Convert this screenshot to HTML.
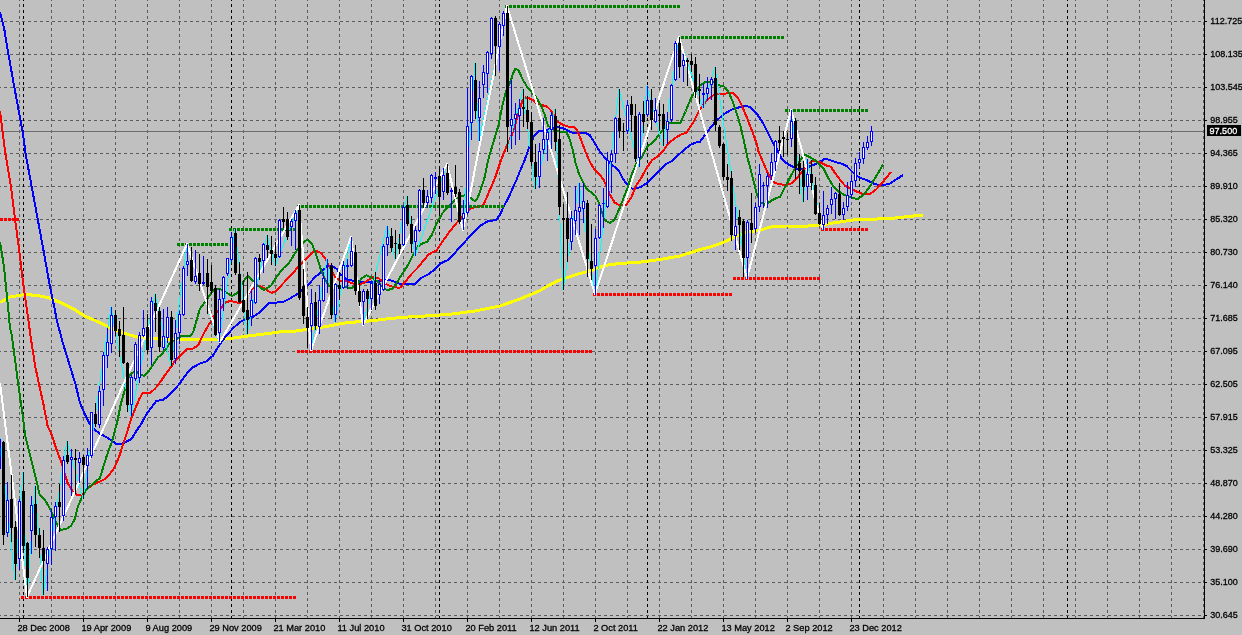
<!DOCTYPE html><html><head><meta charset="utf-8"><style>html,body{margin:0;padding:0;background:#c0c0c0;width:1242px;height:635px;overflow:hidden}svg{display:block}text{font-family:"Liberation Sans",sans-serif;font-size:10px;fill:#000;stroke:#000;stroke-width:0.3px}.tx{will-change:transform}</style></head><body><svg width="1242" height="635" viewBox="0 0 1242 635"><rect width="1242" height="635" fill="#c0c0c0"/><g shape-rendering="crispEdges" fill="none" stroke-width="1" stroke-dasharray="3 3" stroke-dashoffset="2"><path d="M0 21.5H1203M0 54.5H1203M0 87.5H1203M0 120.5H1203M0 153.5H1203M0 186.5H1203M0 219.5H1203M0 252.5H1203M0 285.5H1203M0 318.5H1203M0 351.5H1203M0 384.5H1203M0 417.5H1203M0 450.5H1203M0 483.5H1203M0 516.5H1203M0 549.5H1203M0 582.5H1203M0 615.5H1203" stroke="#5c5c5c"/><path d="M19.5 0V618M51.5 0V618M83.5 0V618M115.5 0V618M147.5 0V618M179.5 0V618M211.5 0V618M243.5 0V618M275.5 0V618M307.5 0V618M339.5 0V618M371.5 0V618M403.5 0V618M435.5 0V618M467.5 0V618M499.5 0V618M531.5 0V618M563.5 0V618M595.5 0V618M627.5 0V618M659.5 0V618M691.5 0V618M723.5 0V618M755.5 0V618M787.5 0V618M819.5 0V618M851.5 0V618M883.5 0V618M915.5 0V618M947.5 0V618M979.5 0V618M1011.5 0V618M1043.5 0V618M1075.5 0V618M1107.5 0V618M1139.5 0V618M1171.5 0V618M1203.5 0V618" stroke="#5c5c5c"/><path d="M23.5 0V618M231.5 0V618M439.5 0V618M647.5 0V618M859.5 0V618M1067.5 0V618" stroke="#000"/></g><path d="M0 131.5H1204" stroke="#6e6e6e" stroke-width="1" shape-rendering="crispEdges"/><path d="M0.0 302.6 L9.8 297.0 L24.4 294.6 L36.6 295.3 L48.8 297.8 L61.0 302.7 L73.2 308.8 L84.5 315.9 L96.6 321.2 L108.0 326.7 L116.0 330.0 L124.0 333.0 L132.0 335.6 L140.0 337.6 L148.3 338.3 L164.4 339.3 L180.5 339.6 L196.6 339.6 L212.7 339.6 L228.8 338.8 L245.0 336.4 L261.0 334.4 L277.0 332.3 L285.0 331.2 L295.7 331.1 L311.5 328.7 L327.2 326.4 L343.0 323.2 L358.7 321.7 L374.5 320.6 L381.5 319.5 L397.2 317.9 L413.0 316.6 L428.7 315.8 L450.0 314.3 L475.0 311.0 L500.0 306.0 L520.0 299.0 L540.0 290.6 L549.4 285.0 L558.9 280.3 L568.3 277.2 L577.8 274.0 L587.2 271.7 L595.1 269.3 L603.0 266.1 L610.9 264.3 L618.7 263.8 L626.6 263.0 L640.0 262.2 L660.0 259.5 L680.0 256.0 L700.0 249.6 L709.4 247.2 L718.9 244.1 L728.3 240.2 L737.8 235.4 L747.2 232.3 L758.3 230.7 L766.1 228.3 L774.0 226.2 L786.6 226.0 L805.7 226.2 L821.5 224.8 L837.2 222.4 L853.0 220.0 L868.7 219.3 L890.0 218.5 L923.0 215.0" fill="none" stroke="#ffff00" stroke-width="3" stroke-linejoin="round" stroke-linecap="butt" shape-rendering="crispEdges" /><path d="M0.0 12.3 L4.1 28.0 L8.2 53.0 L14.3 87.0 L20.5 120.3 L22.7 131.8 L25.6 153.8 L31.7 186.7 L37.8 219.7 L43.9 252.6 L50.0 286.8 L54.9 310.0 L56.7 320.0 L63.0 343.6 L69.3 364.0 L75.6 384.6 L80.0 403.0 L84.7 414.0 L89.4 423.5 L94.5 429.4 L100.0 434.0 L103.6 435.6 L109.4 439.0 L114.2 442.2 L115.7 443.8 L122.0 443.8 L126.8 441.4 L131.5 439.0 L135.1 432.9 L141.4 423.5 L147.5 412.7 L152.0 406.8 L155.9 401.3 L159.8 400.2 L163.0 399.7 L167.7 396.5 L174.0 390.2 L178.7 384.7 L182.1 380.0 L187.0 373.4 L193.4 367.0 L199.8 363.7 L206.3 361.3 L212.7 356.0 L219.4 345.0 L226.0 336.0 L233.2 328.1 L240.0 322.0 L245.0 319.5 L251.4 317.8 L257.8 313.8 L264.3 307.4 L269.0 303.3 L277.0 302.5 L283.6 301.7 L290.0 298.5 L297.3 294.0 L302.0 290.2 L308.3 284.6 L314.6 277.6 L321.0 272.0 L327.2 266.5 L332.0 265.7 L336.7 268.9 L339.8 273.6 L346.1 279.0 L352.4 280.7 L358.7 281.5 L365.0 281.5 L371.3 282.3 L381.5 280.4 L391.0 280.4 L395.7 282.0 L400.4 284.3 L414.6 284.3 L420.9 278.0 L428.7 274.1 L436.6 267.8 L441.3 263.1 L447.3 260.3 L455.2 252.4 L463.1 243.8 L470.9 235.1 L480.4 225.7 L488.3 220.9 L496.1 220.2 L500.1 214.6 L504.0 206.0 L508.7 197.3 L513.5 186.3 L516.4 180.0 L520.0 171.0 L524.7 160.0 L529.0 147.5 L533.8 136.5 L538.5 131.4 L545.0 130.2 L558.3 127.2 L564.6 128.8 L570.9 132.4 L577.2 133.3 L585.1 132.8 L589.8 135.1 L594.6 143.0 L599.3 150.9 L605.6 158.7 L611.9 165.0 L618.2 169.8 L623.6 179.8 L628.3 186.1 L633.1 189.2 L641.0 186.9 L647.2 182.9 L653.5 176.6 L659.8 170.3 L666.1 164.0 L672.4 160.9 L678.7 154.6 L685.0 149.1 L691.3 144.3 L697.6 142.0 L700.0 141.9 L707.9 130.9 L715.7 121.4 L723.6 114.3 L731.5 109.6 L739.4 107.2 L745.7 105.7 L750.4 107.2 L756.7 113.5 L763.0 123.0 L767.7 132.4 L772.4 141.9 L777.2 149.8 L781.9 159.2 L785.0 162.0 L789.8 165.2 L796.3 168.5 L802.6 169.3 L810.5 166.1 L818.3 163.0 L824.6 159.0 L829.4 159.8 L835.7 162.2 L842.0 163.8 L846.7 166.1 L851.4 170.9 L856.1 175.6 L860.9 178.0 L867.2 180.3 L873.5 183.5 L878.2 185.0 L884.5 185.0 L890.0 183.5 L897.0 179.0 L903.0 175.0" fill="none" stroke="#0000ff" stroke-width="2" stroke-linejoin="round" stroke-linecap="butt" shape-rendering="crispEdges" /><path d="M0.0 111.0 L5.4 153.8 L11.0 186.7 L15.1 219.7 L19.5 252.6 L23.2 284.0 L27.6 315.0 L31.5 342.5 L35.4 367.2 L39.4 386.1 L43.3 403.5 L46.5 420.0 L47.2 424.7 L52.0 435.7 L56.7 450.0 L61.4 462.5 L64.6 473.5 L67.7 483.0 L72.4 490.9 L77.2 494.8 L81.9 494.8 L86.6 489.3 L92.9 484.6 L100.0 481.4 L104.7 479.2 L109.4 474.5 L114.2 468.2 L118.9 457.2 L123.6 443.0 L127.6 430.4 L131.5 417.8 L135.4 408.3 L139.4 398.9 L142.5 393.4 L150.4 392.6 L155.1 388.7 L160.6 381.6 L165.8 373.9 L171.3 366.8 L174.0 362.0 L180.5 355.7 L187.0 349.2 L193.4 348.4 L198.2 345.2 L203.0 334.8 L209.5 323.5 L214.3 315.4 L219.2 309.8 L225.6 302.5 L230.4 300.9 L236.9 302.5 L241.7 302.5 L246.5 296.0 L253.0 288.0 L257.8 285.6 L262.6 287.2 L267.5 290.5 L271.5 292.9 L275.5 291.3 L280.2 286.5 L286.3 280.0 L292.6 273.6 L298.9 265.7 L305.2 259.4 L311.5 253.1 L316.2 250.8 L321.0 253.1 L325.7 259.4 L330.4 268.9 L335.1 276.8 L339.8 280.7 L344.6 280.7 L349.3 282.3 L354.0 283.9 L358.7 284.6 L365.0 282.3 L372.0 277.2 L378.3 278.0 L383.0 282.0 L387.8 285.1 L392.5 286.7 L397.2 287.5 L400.4 287.5 L405.1 282.0 L411.4 274.1 L417.7 267.8 L424.0 260.0 L428.7 254.4 L432.0 252.5 L436.3 250.9 L442.6 241.4 L450.5 230.4 L458.3 221.0 L464.6 214.6 L470.9 208.3 L477.2 206.8 L483.5 205.2 L486.7 197.3 L491.4 186.3 L494.3 180.0 L500.4 161.9 L506.7 146.1 L513.0 132.0 L517.7 116.2 L522.4 100.5 L525.6 97.3 L531.9 99.3 L536.3 103.6 L542.6 105.2 L547.3 106.8 L550.5 109.9 L553.6 114.6 L556.8 121.0 L561.5 124.1 L567.8 126.5 L574.1 127.2 L577.2 130.4 L580.4 138.3 L585.1 150.9 L589.8 161.9 L594.6 169.8 L600.9 176.1 L604.0 180.5 L606.6 186.7 L609.8 194.6 L614.5 202.4 L620.0 205.6 L626.0 205.0 L631.0 198.0 L636.0 186.0 L641.0 178.2 L647.2 167.2 L652.0 160.1 L658.3 156.1 L663.0 151.4 L667.7 144.3 L674.0 138.8 L680.3 134.9 L686.6 132.5 L692.9 123.1 L697.6 113.6 L700.3 109.3 L706.5 100.5 L712.7 95.5 L718.9 93.9 L733.1 93.1 L737.8 97.8 L742.5 107.2 L747.2 118.3 L752.0 130.9 L756.7 143.5 L758.3 151.0 L763.0 162.0 L767.7 173.0 L772.4 181.7 L778.7 184.1 L785.0 184.9 L790.5 184.0 L796.3 178.7 L802.6 170.9 L807.3 164.6 L813.6 160.6 L819.9 162.2 L826.2 165.4 L830.9 166.9 L835.7 174.0 L840.4 180.3 L845.1 185.8 L851.4 189.0 L857.7 192.1 L864.0 194.5 L870.3 193.7 L876.6 189.0 L882.9 181.9 L891.0 172.0" fill="none" stroke="#ff0000" stroke-width="2" stroke-linejoin="round" stroke-linecap="butt" shape-rendering="crispEdges" /><path d="M0.0 242.0 L2.0 254.0 L4.2 269.0 L7.1 297.4 L9.9 327.0 L11.8 335.7 L15.0 359.4 L18.1 383.0 L21.3 405.0 L23.3 420.0 L25.2 435.7 L29.1 451.5 L33.0 467.2 L37.0 483.0 L39.4 494.0 L44.0 498.7 L48.0 505.0 L52.0 512.8 L55.1 520.2 L59.0 528.3 L60.6 530.0 L66.0 529.0 L71.0 526.0 L74.8 519.0 L77.1 509.5 L78.7 504.7 L81.9 497.0 L86.6 489.3 L92.9 483.8 L100.0 477.8 L106.3 457.2 L112.6 439.8 L117.5 420.5 L120.8 404.0 L123.6 394.2 L126.0 385.5 L128.0 379.0 L130.4 374.5 L135.2 371.0 L139.8 374.0 L143.8 376.0 L148.8 371.0 L154.8 362.0 L158.0 357.3 L160.3 355.7 L165.8 349.4 L170.6 342.0 L175.7 339.6 L180.5 336.4 L190.2 336.4 L193.4 331.5 L196.6 320.3 L199.8 309.0 L204.7 302.5 L209.5 295.3 L213.0 290.6 L219.3 288.5 L225.6 292.0 L231.9 296.0 L237.5 293.0 L242.5 283.0 L247.8 275.5 L255.6 283.3 L260.0 287.5 L264.2 290.0 L271.2 285.5 L277.2 275.8 L283.5 268.0 L288.3 264.0 L293.0 256.5 L297.7 249.0 L302.4 243.5 L307.2 239.6 L311.9 243.5 L316.6 256.1 L320.6 268.7 L324.5 278.2 L328.6 285.5 L333.5 287.0 L339.8 286.2 L346.1 287.0 L350.0 288.5 L354.7 286.7 L357.2 283.9 L361.9 278.3 L366.4 275.3 L371.3 277.4 L378.3 282.0 L383.0 289.0 L387.8 289.8 L392.5 289.0 L397.2 282.0 L402.0 274.1 L408.3 264.6 L413.0 255.2 L417.7 246.5 L422.4 243.4 L427.2 241.8 L431.9 234.7 L436.3 224.1 L442.6 213.0 L448.9 206.0 L455.2 199.7 L461.5 195.7 L466.0 195.3 L469.8 197.0 L474.6 201.0 L476.5 200.0 L479.3 194.0 L484.0 179.8 L488.7 157.8 L493.5 142.0 L498.2 126.3 L500.0 117.3 L502.8 104.0 L505.5 93.0 L508.3 86.5 L511.0 80.4 L513.0 73.5 L515.4 68.8 L518.5 70.0 L522.4 79.0 L527.2 87.0 L531.9 92.5 L536.6 98.0 L541.3 106.0 L544.8 115.0 L548.0 125.7 L555.2 131.2 L566.2 132.0 L569.4 138.3 L572.5 149.3 L575.7 163.5 L578.8 173.5 L583.0 182.0 L586.1 188.3 L590.9 192.2 L595.6 196.1 L598.7 202.4 L601.9 211.9 L605.0 220.6 L609.8 222.9 L614.5 219.8 L620.0 207.2 L627.6 187.6 L631.5 175.0 L636.2 164.0 L642.5 156.1 L647.2 146.7 L653.5 142.0 L658.3 135.7 L663.0 129.4 L669.3 123.1 L680.3 123.1 L685.5 111.5 L688.5 104.0 L692.0 96.5 L696.0 90.5 L700.0 85.5 L704.6 82.3 L712.4 81.2 L720.0 85.5 L723.6 86.0 L728.3 91.5 L733.1 102.5 L737.8 116.7 L740.9 127.7 L744.1 141.9 L747.2 156.5 L752.0 174.6 L756.7 193.5 L760.6 202.2 L764.6 204.6 L769.3 202.2 L774.0 199.0 L780.3 196.7 L785.0 187.2 L789.8 177.8 L794.6 169.2 L799.4 161.4 L804.2 154.3 L810.5 157.5 L816.8 161.4 L823.1 167.7 L827.8 177.2 L832.5 185.0 L837.2 190.6 L843.5 194.5 L851.4 197.6 L857.7 199.2 L864.0 194.5 L870.3 185.8 L876.6 175.6 L882.9 164.6" fill="none" stroke="#008000" stroke-width="2" stroke-linejoin="round" stroke-linecap="butt" shape-rendering="crispEdges" /><g shape-rendering="crispEdges"><path d="M177 243h3v3h-3zM181 243h3v3h-3zM185 243h3v3h-3zM189 243h3v3h-3zM193 243h3v3h-3zM197 243h3v3h-3zM201 243h3v3h-3zM205 243h3v3h-3zM209 243h3v3h-3zM213 243h3v3h-3zM217 243h3v3h-3zM221 243h3v3h-3zM225 243h3v3h-3z" fill="#008000"/><path d="M229 228h3v3h-3zM233 228h3v3h-3zM237 228h3v3h-3zM241 228h3v3h-3zM245 228h3v3h-3zM249 228h3v3h-3zM253 228h3v3h-3zM257 228h3v3h-3zM261 228h3v3h-3zM265 228h3v3h-3zM269 228h3v3h-3zM273 228h3v3h-3zM277 228h3v3h-3zM281 228h3v3h-3zM285 228h3v3h-3zM289 228h3v3h-3zM293 228h3v3h-3z" fill="#008000"/><path d="M297 205h3v3h-3zM301 205h3v3h-3zM305 205h3v3h-3zM309 205h3v3h-3zM313 205h3v3h-3zM317 205h3v3h-3zM321 205h3v3h-3zM325 205h3v3h-3zM329 205h3v3h-3zM333 205h3v3h-3zM337 205h3v3h-3zM341 205h3v3h-3zM345 205h3v3h-3zM349 205h3v3h-3zM353 205h3v3h-3zM357 205h3v3h-3zM361 205h3v3h-3zM365 205h3v3h-3zM369 205h3v3h-3zM373 205h3v3h-3zM377 205h3v3h-3zM381 205h3v3h-3zM385 205h3v3h-3zM389 205h3v3h-3zM393 205h3v3h-3zM397 205h3v3h-3zM401 205h3v3h-3zM405 205h3v3h-3zM409 205h3v3h-3zM413 205h3v3h-3zM417 205h3v3h-3zM421 205h3v3h-3zM425 205h3v3h-3zM429 205h3v3h-3zM433 205h3v3h-3zM437 205h3v3h-3zM441 205h3v3h-3zM445 205h3v3h-3zM449 205h3v3h-3zM453 205h3v3h-3zM457 205h3v3h-3zM461 205h3v3h-3zM465 205h3v3h-3zM469 205h3v3h-3zM473 205h3v3h-3zM477 205h3v3h-3zM481 205h3v3h-3zM485 205h3v3h-3zM489 205h3v3h-3zM493 205h3v3h-3zM497 205h3v3h-3zM501 205h3v3h-3z" fill="#008000"/><path d="M505 5h3v3h-3zM509 5h3v3h-3zM513 5h3v3h-3zM517 5h3v3h-3zM521 5h3v3h-3zM525 5h3v3h-3zM529 5h3v3h-3zM533 5h3v3h-3zM537 5h3v3h-3zM541 5h3v3h-3zM545 5h3v3h-3zM549 5h3v3h-3zM553 5h3v3h-3zM557 5h3v3h-3zM561 5h3v3h-3zM565 5h3v3h-3zM569 5h3v3h-3zM573 5h3v3h-3zM577 5h3v3h-3zM581 5h3v3h-3zM585 5h3v3h-3zM589 5h3v3h-3zM593 5h3v3h-3zM597 5h3v3h-3zM601 5h3v3h-3zM605 5h3v3h-3zM609 5h3v3h-3zM613 5h3v3h-3zM617 5h3v3h-3zM621 5h3v3h-3zM625 5h3v3h-3zM629 5h3v3h-3zM633 5h3v3h-3zM637 5h3v3h-3zM641 5h3v3h-3zM645 5h3v3h-3zM649 5h3v3h-3zM653 5h3v3h-3zM657 5h3v3h-3zM661 5h3v3h-3zM665 5h3v3h-3zM669 5h3v3h-3zM673 5h3v3h-3zM677 5h3v3h-3z" fill="#008000"/><path d="M681 36h3v3h-3zM685 36h3v3h-3zM689 36h3v3h-3zM693 36h3v3h-3zM697 36h3v3h-3zM701 36h3v3h-3zM705 36h3v3h-3zM709 36h3v3h-3zM713 36h3v3h-3zM717 36h3v3h-3zM721 36h3v3h-3zM725 36h3v3h-3zM729 36h3v3h-3zM733 36h3v3h-3zM737 36h3v3h-3zM741 36h3v3h-3zM745 36h3v3h-3zM749 36h3v3h-3zM753 36h3v3h-3zM757 36h3v3h-3zM761 36h3v3h-3zM765 36h3v3h-3zM769 36h3v3h-3zM773 36h3v3h-3zM777 36h3v3h-3zM781 36h3v3h-3z" fill="#008000"/><path d="M785 109h3v3h-3zM789 109h3v3h-3zM793 109h3v3h-3zM797 109h3v3h-3zM801 109h3v3h-3zM805 109h3v3h-3zM809 109h3v3h-3zM813 109h3v3h-3zM817 109h3v3h-3zM821 109h3v3h-3zM825 109h3v3h-3zM829 109h3v3h-3zM833 109h3v3h-3zM837 109h3v3h-3zM841 109h3v3h-3zM845 109h3v3h-3zM849 109h3v3h-3zM853 109h3v3h-3zM857 109h3v3h-3zM861 109h3v3h-3zM865 109h3v3h-3z" fill="#008000"/><path d="M21 596h3v3h-3zM25 596h3v3h-3zM29 596h3v3h-3zM33 596h3v3h-3zM37 596h3v3h-3zM41 596h3v3h-3zM45 596h3v3h-3zM49 596h3v3h-3zM53 596h3v3h-3zM57 596h3v3h-3zM61 596h3v3h-3zM65 596h3v3h-3zM69 596h3v3h-3zM73 596h3v3h-3zM77 596h3v3h-3zM81 596h3v3h-3zM85 596h3v3h-3zM89 596h3v3h-3zM93 596h3v3h-3zM97 596h3v3h-3zM101 596h3v3h-3zM105 596h3v3h-3zM109 596h3v3h-3zM113 596h3v3h-3zM117 596h3v3h-3zM121 596h3v3h-3zM125 596h3v3h-3zM129 596h3v3h-3zM133 596h3v3h-3zM137 596h3v3h-3zM141 596h3v3h-3zM145 596h3v3h-3zM149 596h3v3h-3zM153 596h3v3h-3zM157 596h3v3h-3zM161 596h3v3h-3zM165 596h3v3h-3zM169 596h3v3h-3zM173 596h3v3h-3zM177 596h3v3h-3zM181 596h3v3h-3zM185 596h3v3h-3zM189 596h3v3h-3zM193 596h3v3h-3zM197 596h3v3h-3zM201 596h3v3h-3zM205 596h3v3h-3zM209 596h3v3h-3zM213 596h3v3h-3zM217 596h3v3h-3zM221 596h3v3h-3zM225 596h3v3h-3zM229 596h3v3h-3zM233 596h3v3h-3zM237 596h3v3h-3zM241 596h3v3h-3zM245 596h3v3h-3zM249 596h3v3h-3zM253 596h3v3h-3zM257 596h3v3h-3zM261 596h3v3h-3zM265 596h3v3h-3zM269 596h3v3h-3zM273 596h3v3h-3zM277 596h3v3h-3zM281 596h3v3h-3zM285 596h3v3h-3zM289 596h3v3h-3zM293 596h3v3h-3z" fill="#ff0000"/><path d="M297 350h3v3h-3zM301 350h3v3h-3zM305 350h3v3h-3zM309 350h3v3h-3zM313 350h3v3h-3zM317 350h3v3h-3zM321 350h3v3h-3zM325 350h3v3h-3zM329 350h3v3h-3zM333 350h3v3h-3zM337 350h3v3h-3zM341 350h3v3h-3zM345 350h3v3h-3zM349 350h3v3h-3zM353 350h3v3h-3zM357 350h3v3h-3zM361 350h3v3h-3zM365 350h3v3h-3zM369 350h3v3h-3zM373 350h3v3h-3zM377 350h3v3h-3zM381 350h3v3h-3zM385 350h3v3h-3zM389 350h3v3h-3zM393 350h3v3h-3zM397 350h3v3h-3zM401 350h3v3h-3zM405 350h3v3h-3zM409 350h3v3h-3zM413 350h3v3h-3zM417 350h3v3h-3zM421 350h3v3h-3zM425 350h3v3h-3zM429 350h3v3h-3zM433 350h3v3h-3zM437 350h3v3h-3zM441 350h3v3h-3zM445 350h3v3h-3zM449 350h3v3h-3zM453 350h3v3h-3zM457 350h3v3h-3zM461 350h3v3h-3zM465 350h3v3h-3zM469 350h3v3h-3zM473 350h3v3h-3zM477 350h3v3h-3zM481 350h3v3h-3zM485 350h3v3h-3zM489 350h3v3h-3zM493 350h3v3h-3zM497 350h3v3h-3zM501 350h3v3h-3zM505 350h3v3h-3zM509 350h3v3h-3zM513 350h3v3h-3zM517 350h3v3h-3zM521 350h3v3h-3zM525 350h3v3h-3zM529 350h3v3h-3zM533 350h3v3h-3zM537 350h3v3h-3zM541 350h3v3h-3zM545 350h3v3h-3zM549 350h3v3h-3zM553 350h3v3h-3zM557 350h3v3h-3zM561 350h3v3h-3zM565 350h3v3h-3zM569 350h3v3h-3zM573 350h3v3h-3zM577 350h3v3h-3zM581 350h3v3h-3zM585 350h3v3h-3zM589 350h3v3h-3z" fill="#ff0000"/><path d="M593 293h3v3h-3zM597 293h3v3h-3zM601 293h3v3h-3zM605 293h3v3h-3zM609 293h3v3h-3zM613 293h3v3h-3zM617 293h3v3h-3zM621 293h3v3h-3zM625 293h3v3h-3zM629 293h3v3h-3zM633 293h3v3h-3zM637 293h3v3h-3zM641 293h3v3h-3zM645 293h3v3h-3zM649 293h3v3h-3zM653 293h3v3h-3zM657 293h3v3h-3zM661 293h3v3h-3zM665 293h3v3h-3zM669 293h3v3h-3zM673 293h3v3h-3zM677 293h3v3h-3zM681 293h3v3h-3zM685 293h3v3h-3zM689 293h3v3h-3zM693 293h3v3h-3zM697 293h3v3h-3zM701 293h3v3h-3zM705 293h3v3h-3zM709 293h3v3h-3zM713 293h3v3h-3zM717 293h3v3h-3zM721 293h3v3h-3zM725 293h3v3h-3zM729 293h3v3h-3z" fill="#ff0000"/><path d="M733 277h3v3h-3zM737 277h3v3h-3zM741 277h3v3h-3zM745 277h3v3h-3zM749 277h3v3h-3zM753 277h3v3h-3zM757 277h3v3h-3zM761 277h3v3h-3zM765 277h3v3h-3zM769 277h3v3h-3zM773 277h3v3h-3zM777 277h3v3h-3zM781 277h3v3h-3zM785 277h3v3h-3zM789 277h3v3h-3zM793 277h3v3h-3zM797 277h3v3h-3zM801 277h3v3h-3zM805 277h3v3h-3zM809 277h3v3h-3zM813 277h3v3h-3zM817 277h3v3h-3z" fill="#ff0000"/><path d="M821 228h3v3h-3zM825 228h3v3h-3zM829 228h3v3h-3zM833 228h3v3h-3zM837 228h3v3h-3zM841 228h3v3h-3zM845 228h3v3h-3zM849 228h3v3h-3zM853 228h3v3h-3zM857 228h3v3h-3zM861 228h3v3h-3zM865 228h3v3h-3z" fill="#ff0000"/><path d="M0 218h3v3h-3zM4 218h3v3h-3zM8 218h3v3h-3zM12 218h3v3h-3zM16 218h3v3h-3z" fill="#ff0000"/></g><path d="M-4.0 400.0 L15.0 580.0 L23.0 472.0 L27.0 597.0 L35.0 486.0 L43.0 595.0 L67.0 441.0 L83.0 499.0 L111.0 307.0 L131.0 416.0 L155.0 294.0 L171.0 366.0 L187.0 244.0 L219.0 342.0 L235.0 229.0 L247.0 334.0 L267.0 235.0 L275.0 266.0 L299.0 205.0 L311.0 350.0 L327.0 259.0 L335.0 322.0 L351.0 237.0 L363.0 325.0 L387.0 226.0 L395.0 259.0 L407.0 196.0 L415.0 256.0 L447.0 164.0 L463.0 230.0 L475.0 63.0 L479.0 141.0 L507.0 6.0 L507.0 152.0 L523.0 89.0 L535.0 189.0 L555.0 109.0 L563.0 290.0 L579.0 183.0 L595.0 295.0 L619.0 89.0 L639.0 167.0 L647.0 86.0 L663.0 146.0 L679.0 37.0 L703.0 108.0 L715.0 67.0 L747.0 279.0 L791.0 110.0 L803.0 202.0 L807.0 159.0 L823.0 230.0" fill="none" stroke="#00ffff" stroke-width="1" stroke-linejoin="round" stroke-linecap="butt" shape-rendering="crispEdges" /><path d="M0.0 383.0 L27.0 597.0 L187.0 244.0 L220.0 342.0 L299.0 205.0 L311.0 350.0 L351.0 237.0 L363.0 325.0 L447.0 164.0 L463.0 230.0 L507.0 6.0 L595.0 294.0 L679.0 37.0 L747.0 278.0 L791.0 110.0 L823.0 229.0" fill="none" stroke="#ffffff" stroke-width="2" stroke-linejoin="round" stroke-linecap="butt" shape-rendering="crispEdges" /><g shape-rendering="crispEdges"><path d="M3.5 441V545M11.5 475V542M15.5 521V580M23.5 472V553M27.5 542V597M35.5 486V547M39.5 528V558M43.5 530V595M59.5 484V532M67.5 441V464M75.5 449V494M83.5 455V499M95.5 403V427M115.5 310V336M119.5 321V357M123.5 307V364M127.5 362V412M147.5 314V354M155.5 294V332M159.5 307V352M171.5 311V366M191.5 247V282M199.5 254V291M207.5 259V314M211.5 265V294M215.5 285V336M235.5 229V275M239.5 262V303M243.5 280V313M247.5 272V334M259.5 254V280M267.5 235V258M271.5 236V265M275.5 242V266M283.5 207V228M287.5 212V240M299.5 205V300M303.5 269V324M307.5 307V348M315.5 292V330M331.5 263V319M339.5 272V300M355.5 245V295M359.5 283V306M367.5 289V319M375.5 272V310M391.5 228V252M395.5 230V259M399.5 234V254M407.5 196V226M411.5 216V253M423.5 178V208M439.5 166V214M447.5 164V195M455.5 165V197M459.5 189V224M475.5 63V119M495.5 16V76M507.5 6V152M523.5 89V127M527.5 96V129M531.5 112V166M535.5 144V189M555.5 109V151M559.5 125V215M563.5 204V290M567.5 192V262M587.5 200V277M591.5 224V280M619.5 89V138M623.5 123V151M631.5 96V132M635.5 104V162M643.5 101V133M651.5 89V130M659.5 103V131M663.5 104V146M679.5 37V78M687.5 58V86M691.5 54V72M695.5 57V98M699.5 74V104M715.5 67V131M719.5 125V148M723.5 143V180M727.5 164V191M731.5 171V241M739.5 210V250M743.5 219V277M751.5 193V243M779.5 126V151M783.5 131V157M787.5 133V155M795.5 118V179M799.5 154V194M803.5 161V202M811.5 160V190M815.5 177V215M819.5 203V225M839.5 183V216" stroke="#000" stroke-width="1" fill="none"/><path d="M2 442h3v93h-3zM10 499h3v29h-3zM14 527h3v37h-3zM22 491h3v55h-3zM26 543h3v35h-3zM34 504h3v31h-3zM38 535h3v13h-3zM42 548h3v13h-3zM58 502h3v5h-3zM66 455h3v7h-3zM74 458h3v2h-3zM82 457h3v8h-3zM94 414h3v10h-3zM114 315h3v16h-3zM118 329h3v7h-3zM122 335h3v28h-3zM126 363h3v42h-3zM146 327h3v23h-3zM154 303h3v8h-3zM158 311h3v36h-3zM170 317h3v43h-3zM190 260h3v21h-3zM198 273h3v11h-3zM206 273h3v14h-3zM210 282h3v9h-3zM214 288h3v47h-3zM234 233h3v40h-3zM238 274h3v28h-3zM242 300h3v12h-3zM246 310h3v10h-3zM258 258h3v4h-3zM266 245h3v5h-3zM270 250h3v4h-3zM274 254h3v4h-3zM282 219h3v3h-3zM286 219h3v18h-3zM298 210h3v88h-3zM302 286h3v30h-3zM306 317h3v11h-3zM314 302h3v24h-3zM330 266h3v49h-3zM338 285h3v4h-3zM354 252h3v39h-3zM358 291h3v11h-3zM366 291h3v8h-3zM374 283h3v23h-3zM390 236h3v12h-3zM394 243h3v1h-3zM398 244h3v5h-3zM406 205h3v19h-3zM410 224h3v20h-3zM422 190h3v13h-3zM438 176h3v21h-3zM446 173h3v20h-3zM454 187h3v7h-3zM458 192h3v30h-3zM474 80h3v31h-3zM494 18h3v28h-3zM506 13h3v114h-3zM522 107h3v2h-3zM526 110h3v12h-3zM530 122h3v40h-3zM534 162h3v15h-3zM554 116h3v26h-3zM558 139h3v68h-3zM562 218h3v2h-3zM566 218h3v21h-3zM586 203h3v56h-3zM590 261h3v8h-3zM618 118h3v13h-3zM622 131h3v1h-3zM630 104h3v11h-3zM634 116h3v43h-3zM642 114h3v8h-3zM650 100h3v20h-3zM658 114h3v2h-3zM662 114h3v15h-3zM678 43h3v24h-3zM686 60h3v2h-3zM690 61h3v4h-3zM694 64h3v28h-3zM698 89h3v2h-3zM714 78h3v47h-3zM718 127h3v19h-3zM722 144h3v33h-3zM726 177h3v3h-3zM730 178h3v57h-3zM738 217h3v8h-3zM742 221h3v37h-3zM750 223h3v7h-3zM778 140h3v3h-3zM782 137h3v2h-3zM786 139h3v1h-3zM794 121h3v47h-3zM798 163h3v8h-3zM802 170h3v17h-3zM810 174h3v9h-3zM814 185h3v29h-3zM818 213h3v11h-3zM838 194h3v21h-3z" fill="#000"/><path d="M-0.5 430V439M-0.5 469V475M7.5 482V500M7.5 533V537M19.5 499V501M19.5 559V570M31.5 496V505M31.5 531V554M47.5 547V549M47.5 564V591M51.5 509V517M51.5 549V565M55.5 502V506M55.5 517V551M63.5 456V460M63.5 516V521M71.5 449V457M71.5 460V496M79.5 452V458M79.5 463V483M87.5 448V455M87.5 466V489M91.5 412V412M91.5 456V458M99.5 386V391M99.5 425V428M103.5 352V355M103.5 390V406M107.5 328V342M107.5 356V368M111.5 307V315M111.5 344V353M131.5 375V377M131.5 405V416M135.5 342V344M135.5 379V381M139.5 332V335M139.5 378V383M143.5 310V328M143.5 336V337M151.5 297V301M151.5 348V365M163.5 309V336M163.5 348V350M167.5 307V317M167.5 338V343M175.5 320V333M175.5 359V364M179.5 311V314M179.5 333V344M183.5 266V268M183.5 315V316M187.5 244V261M187.5 265V276M195.5 250V276M195.5 282V284M203.5 256V282M203.5 284V285M219.5 289V299M219.5 333V342M223.5 276V277M223.5 299V311M227.5 258V258M227.5 274V276M231.5 232V237M231.5 260V262M251.5 290V300M251.5 317V326M255.5 257V258M255.5 303V304M263.5 243V244M263.5 261V273M279.5 219V220M279.5 257V258M291.5 219V221M291.5 227V246M295.5 210V213M295.5 221V250M311.5 289V303M311.5 326V350M319.5 285V300M319.5 327V334M323.5 272V278M323.5 301V302M327.5 259V265M327.5 267V293M335.5 283V284M335.5 315V322M343.5 261V265M343.5 288V289M347.5 259V265M347.5 267V289M351.5 237V251M351.5 266V267M363.5 289V291M363.5 302V325M371.5 282V283M371.5 299V310M379.5 280V284M379.5 295V304M383.5 244V246M383.5 290V291M387.5 226V237M387.5 245V256M403.5 205V207M403.5 245V246M415.5 226V230M415.5 242V256M419.5 189V190M419.5 231V232M427.5 190V196M427.5 203V208M431.5 174V175M431.5 198V203M435.5 172V177M435.5 179V194M443.5 168V175M443.5 192V200M451.5 188V190M451.5 192V222M463.5 200V213M463.5 219V230M467.5 88V126M467.5 213V215M471.5 75V76M471.5 123V140M479.5 81V98M479.5 118V141M483.5 65V72M483.5 85V98M487.5 51V52M487.5 74V93M491.5 17V18M491.5 54V59M499.5 22V24M499.5 47V71M503.5 11V13M503.5 26V36M511.5 80V119M511.5 126V149M515.5 103V114M515.5 119V145M519.5 99V108M519.5 116V140M539.5 143V151M539.5 177V188M543.5 118V139M543.5 150V154M547.5 129V132M547.5 140V161M551.5 112V115M551.5 130V149M571.5 211V218M571.5 242V250M575.5 186V210M575.5 221V235M579.5 183V207M579.5 212V235M583.5 183V201M583.5 209V223M595.5 229V238M595.5 266V295M599.5 204V205M599.5 238V239M603.5 188V203M603.5 204V228M607.5 152V160M607.5 207V208M611.5 150V154M611.5 162V193M615.5 117V118M615.5 154V163M627.5 100V105M627.5 131V134M639.5 112V114M639.5 158V167M647.5 86V100M647.5 115V117M655.5 98V110M655.5 122V123M667.5 112V121M667.5 130V144M671.5 84V85M671.5 120V122M675.5 41V43M675.5 80V81M683.5 54V60M683.5 66V82M703.5 84V93M703.5 95V108M707.5 77V88M707.5 94V101M711.5 77V79M711.5 85V100M735.5 207V226M735.5 236V250M747.5 220V222M747.5 258V279M755.5 203V207M755.5 229V233M759.5 164V174M759.5 207V212M763.5 182V185M763.5 186V208M767.5 173V176M767.5 186V208M771.5 153V162M771.5 176V180M775.5 140V141M775.5 162V171M791.5 110V121M791.5 139V147M807.5 159V174M807.5 187V200M823.5 191V215M823.5 225V230M827.5 205V208M827.5 215V224M831.5 187V199M831.5 205V214M835.5 192V193M835.5 199V219M843.5 202V208M843.5 215V220M847.5 182V195M847.5 207V211M851.5 175V181M851.5 195V199M855.5 158V163M855.5 181V187M859.5 152V159M859.5 163V168M863.5 142V147M863.5 159V164M867.5 136V142M867.5 148V150M871.5 126V131M871.5 142V146" stroke="#0000ff" stroke-width="1" fill="none"/><path d="M-2 439h3v30h-3zM6 500h3v33h-3zM18 501h3v58h-3zM30 505h3v26h-3zM46 549h3v15h-3zM50 517h3v32h-3zM54 506h3v11h-3zM62 460h3v56h-3zM70 457h3v3h-3zM78 458h3v5h-3zM86 455h3v11h-3zM90 412h3v44h-3zM98 391h3v34h-3zM102 355h3v35h-3zM106 342h3v14h-3zM110 315h3v29h-3zM130 377h3v28h-3zM134 344h3v35h-3zM138 335h3v43h-3zM142 328h3v8h-3zM150 301h3v47h-3zM162 336h3v12h-3zM166 317h3v21h-3zM174 333h3v26h-3zM178 314h3v19h-3zM182 268h3v47h-3zM186 261h3v4h-3zM194 276h3v6h-3zM202 282h3v2h-3zM218 299h3v34h-3zM222 277h3v22h-3zM226 258h3v16h-3zM230 237h3v23h-3zM250 300h3v17h-3zM254 258h3v45h-3zM262 244h3v17h-3zM278 220h3v37h-3zM290 221h3v6h-3zM294 213h3v8h-3zM310 303h3v23h-3zM318 300h3v27h-3zM322 278h3v23h-3zM326 265h3v2h-3zM334 284h3v31h-3zM342 265h3v23h-3zM346 265h3v2h-3zM350 251h3v15h-3zM362 291h3v11h-3zM370 283h3v16h-3zM378 284h3v11h-3zM382 246h3v44h-3zM386 237h3v8h-3zM402 207h3v38h-3zM414 230h3v12h-3zM418 190h3v41h-3zM426 196h3v7h-3zM430 175h3v23h-3zM434 177h3v2h-3zM442 175h3v17h-3zM450 190h3v2h-3zM462 213h3v6h-3zM466 126h3v87h-3zM470 76h3v47h-3zM478 98h3v20h-3zM482 72h3v13h-3zM486 52h3v22h-3zM490 18h3v36h-3zM498 24h3v23h-3zM502 13h3v13h-3zM510 119h3v7h-3zM514 114h3v5h-3zM518 108h3v8h-3zM538 151h3v26h-3zM542 139h3v11h-3zM546 132h3v8h-3zM550 115h3v15h-3zM570 218h3v24h-3zM574 210h3v11h-3zM578 207h3v5h-3zM582 201h3v8h-3zM594 238h3v28h-3zM598 205h3v33h-3zM602 203h3v1h-3zM606 160h3v47h-3zM610 154h3v8h-3zM614 118h3v36h-3zM626 105h3v26h-3zM638 114h3v44h-3zM646 100h3v15h-3zM654 110h3v12h-3zM666 121h3v9h-3zM670 85h3v35h-3zM674 43h3v37h-3zM682 60h3v6h-3zM702 93h3v2h-3zM706 88h3v6h-3zM710 79h3v6h-3zM734 226h3v10h-3zM746 222h3v36h-3zM754 207h3v22h-3zM758 174h3v33h-3zM762 185h3v1h-3zM766 176h3v10h-3zM770 162h3v14h-3zM774 141h3v21h-3zM790 121h3v18h-3zM806 174h3v13h-3zM822 215h3v10h-3zM826 208h3v7h-3zM830 199h3v6h-3zM834 193h3v6h-3zM842 208h3v7h-3zM846 195h3v12h-3zM850 181h3v14h-3zM854 163h3v18h-3zM858 159h3v4h-3zM862 147h3v12h-3zM866 142h3v6h-3zM870 131h3v11h-3z" fill="#0000ff"/><path d="M-1 440h1v28h-1zM7 501h1v31h-1zM19 502h1v56h-1zM31 506h1v24h-1zM47 550h1v13h-1zM51 518h1v30h-1zM55 507h1v9h-1zM63 461h1v54h-1zM71 458h1v1h-1zM79 459h1v3h-1zM87 456h1v9h-1zM91 413h1v42h-1zM99 392h1v32h-1zM103 356h1v33h-1zM107 343h1v12h-1zM111 316h1v27h-1zM131 378h1v26h-1zM135 345h1v33h-1zM139 336h1v41h-1zM143 329h1v6h-1zM151 302h1v45h-1zM163 337h1v10h-1zM167 318h1v19h-1zM175 334h1v24h-1zM179 315h1v17h-1zM183 269h1v45h-1zM187 262h1v2h-1zM195 277h1v4h-1zM219 300h1v32h-1zM223 278h1v20h-1zM227 259h1v14h-1zM231 238h1v21h-1zM251 301h1v15h-1zM255 259h1v43h-1zM263 245h1v15h-1zM279 221h1v35h-1zM291 222h1v4h-1zM295 214h1v6h-1zM311 304h1v21h-1zM319 301h1v25h-1zM323 279h1v21h-1zM335 285h1v29h-1zM343 266h1v21h-1zM351 252h1v13h-1zM363 292h1v9h-1zM371 284h1v14h-1zM379 285h1v9h-1zM383 247h1v42h-1zM387 238h1v6h-1zM403 208h1v36h-1zM415 231h1v10h-1zM419 191h1v39h-1zM427 197h1v5h-1zM431 176h1v21h-1zM443 176h1v15h-1zM463 214h1v4h-1zM467 127h1v85h-1zM471 77h1v45h-1zM479 99h1v18h-1zM483 73h1v11h-1zM487 53h1v20h-1zM491 19h1v34h-1zM499 25h1v21h-1zM503 14h1v11h-1zM511 120h1v5h-1zM515 115h1v3h-1zM519 109h1v6h-1zM539 152h1v24h-1zM543 140h1v9h-1zM547 133h1v6h-1zM551 116h1v13h-1zM571 219h1v22h-1zM575 211h1v9h-1zM579 208h1v3h-1zM583 202h1v6h-1zM595 239h1v26h-1zM599 206h1v31h-1zM607 161h1v45h-1zM611 155h1v6h-1zM615 119h1v34h-1zM627 106h1v24h-1zM639 115h1v42h-1zM647 101h1v13h-1zM655 111h1v10h-1zM667 122h1v7h-1zM671 86h1v33h-1zM675 44h1v35h-1zM683 61h1v4h-1zM707 89h1v4h-1zM711 80h1v4h-1zM735 227h1v8h-1zM747 223h1v34h-1zM755 208h1v20h-1zM759 175h1v31h-1zM767 177h1v8h-1zM771 163h1v12h-1zM775 142h1v19h-1zM791 122h1v16h-1zM807 175h1v11h-1zM823 216h1v8h-1zM827 209h1v5h-1zM831 200h1v4h-1zM835 194h1v4h-1zM843 209h1v5h-1zM847 196h1v10h-1zM851 182h1v12h-1zM855 164h1v16h-1zM859 160h1v2h-1zM863 148h1v10h-1zM867 143h1v4h-1zM871 132h1v9h-1z" fill="#ffffff"/></g><path d="M0 618.5H1205M1204.5 0V619M1205 21.5H1207M1205 54.5H1207M1205 87.5H1207M1205 120.5H1207M1205 153.5H1207M1205 186.5H1207M1205 219.5H1207M1205 252.5H1207M1205 285.5H1207M1205 318.5H1207M1205 351.5H1207M1205 384.5H1207M1205 417.5H1207M1205 450.5H1207M1205 483.5H1207M1205 516.5H1207M1205 549.5H1207M1205 582.5H1207M1205 615.5H1207M19.5 619V622M83.5 619V622M147.5 619V622M211.5 619V622M275.5 619V622M339.5 619V622M403.5 619V622M467.5 619V622M531.5 619V622M595.5 619V622M659.5 619V622M723.5 619V622M787.5 619V622M851.5 619V622" stroke="#000" stroke-width="1" shape-rendering="crispEdges" fill="none"/><g class="tx" opacity="0.999"><text transform="translate(1210.3 24.1) scale(0.94 1)" style="font-size:9.6px">112.725</text><text transform="translate(1210.3 57.1) scale(0.94 1)" style="font-size:9.6px">108.135</text><text transform="translate(1210.3 90.1) scale(0.94 1)" style="font-size:9.6px">103.545</text><text transform="translate(1210.3 123.1) scale(0.94 1)" style="font-size:9.6px">98.955</text><text transform="translate(1210.3 156.1) scale(0.94 1)" style="font-size:9.6px">94.365</text><text transform="translate(1210.3 189.1) scale(0.94 1)" style="font-size:9.6px">89.910</text><text transform="translate(1210.3 222.1) scale(0.94 1)" style="font-size:9.6px">85.320</text><text transform="translate(1210.3 255.1) scale(0.94 1)" style="font-size:9.6px">80.730</text><text transform="translate(1210.3 288.1) scale(0.94 1)" style="font-size:9.6px">76.140</text><text transform="translate(1210.3 321.1) scale(0.94 1)" style="font-size:9.6px">71.685</text><text transform="translate(1210.3 354.1) scale(0.94 1)" style="font-size:9.6px">67.095</text><text transform="translate(1210.3 387.1) scale(0.94 1)" style="font-size:9.6px">62.505</text><text transform="translate(1210.3 420.1) scale(0.94 1)" style="font-size:9.6px">57.915</text><text transform="translate(1210.3 453.1) scale(0.94 1)" style="font-size:9.6px">53.325</text><text transform="translate(1210.3 486.1) scale(0.94 1)" style="font-size:9.6px">48.870</text><text transform="translate(1210.3 519.1) scale(0.94 1)" style="font-size:9.6px">44.280</text><text transform="translate(1210.3 552.1) scale(0.94 1)" style="font-size:9.6px">39.690</text><text transform="translate(1210.3 585.1) scale(0.94 1)" style="font-size:9.6px">35.100</text><text transform="translate(1210.3 618.1) scale(0.94 1)" style="font-size:9.6px">30.645</text><text transform="translate(17.4 631.1) scale(0.965 1)" style="font-size:9.6px">28 Dec 2008</text><text transform="translate(81.4 631.1) scale(0.965 1)" style="font-size:9.6px">19 Apr 2009</text><text transform="translate(145.4 631.1) scale(0.965 1)" style="font-size:9.6px">9 Aug 2009</text><text transform="translate(209.4 631.1) scale(0.965 1)" style="font-size:9.6px">29 Nov 2009</text><text transform="translate(273.4 631.1) scale(0.965 1)" style="font-size:9.6px">21 Mar 2010</text><text transform="translate(337.4 631.1) scale(0.965 1)" style="font-size:9.6px">11 Jul 2010</text><text transform="translate(401.4 631.1) scale(0.965 1)" style="font-size:9.6px">31 Oct 2010</text><text transform="translate(465.4 631.1) scale(0.965 1)" style="font-size:9.6px">20 Feb 2011</text><text transform="translate(529.4 631.1) scale(0.965 1)" style="font-size:9.6px">12 Jun 2011</text><text transform="translate(593.4 631.1) scale(0.965 1)" style="font-size:9.6px">2 Oct 2011</text><text transform="translate(657.4 631.1) scale(0.965 1)" style="font-size:9.6px">22 Jan 2012</text><text transform="translate(721.4 631.1) scale(0.965 1)" style="font-size:9.6px">13 May 2012</text><text transform="translate(785.4 631.1) scale(0.965 1)" style="font-size:9.6px">2 Sep 2012</text><text transform="translate(849.4 631.1) scale(0.965 1)" style="font-size:9.6px">23 Dec 2012</text><rect x="1207" y="125" width="34" height="11" fill="#000"/><text transform="translate(1209.6 134.1) scale(0.94 1)" style="fill:#fff;stroke:#fff;font-size:9.6px">97.500</text></g></svg></body></html>
